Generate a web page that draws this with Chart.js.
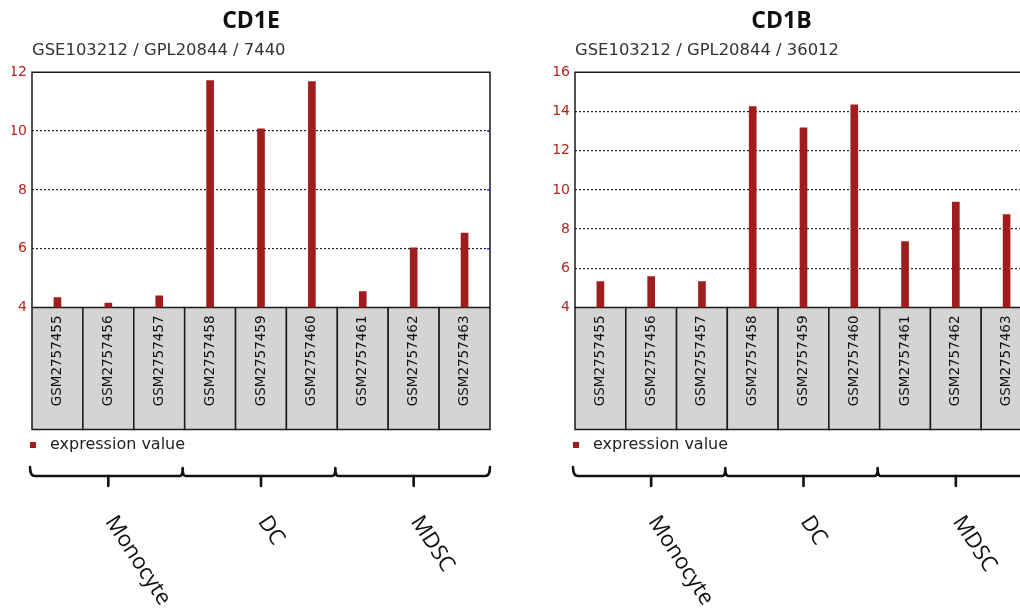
<!DOCTYPE html>
<html>
<head>
<meta charset="utf-8">
<script src="https://cdn.jsdelivr.net/npm/chart.js@4.4.0/dist/chart.umd.min.js"></script>
<style>
  html, body { margin: 0; padding: 0; background: #fff; overflow: hidden; }
  body { width: 1020px; height: 613px; position: relative; }
  .panel { position: absolute; top: 0; height: 613px; }
  #wrap-cd1e { left: 0; width: 510px; }
  #wrap-cd1b { left: 530px; width: 520px; }
</style>
</head>
<body>
<div class="panel" id="wrap-cd1e"><canvas id="chart-cd1e"></canvas></div>
<div class="panel" id="wrap-cd1b"><canvas id="chart-cd1b"></canvas></div>
<script>
// GEO 表达谱柱状图：CD1E / CD1B

const samples = ['GSM2757455', 'GSM2757456', 'GSM2757457', 'GSM2757458', 'GSM2757459',
                 'GSM2757460', 'GSM2757461', 'GSM2757462', 'GSM2757463'];
const groups = ['Monocyte', 'DC', 'MDSC'];
const groupSizes = [3, 3, 3];

const cd1eValues = [4.34, 4.15, 4.40, 11.72, 10.08, 11.68, 4.54, 6.03, 6.53];
const cd1bValues = [5.32, 5.58, 5.32, 14.25, 13.17, 14.34, 7.36, 9.38, 8.74];
const cd1eRange = [4, 12];
const cd1bRange = [4, 16];
const yStep = 2;

const BAR_RED = '#a11d1d';
const TICK_RED = '#b3261e';
const INK = '#111';

// 样本框、外框、图例、分组括号
const geoDecor = {
  id: 'geoDecor',
  beforeDraw(chart) {
    const { ctx, chartArea: a, scales: { x } } = chart;
    const half = (x.getPixelForValue(1) - x.getPixelForValue(0)) / 2;
    ctx.save();
    ctx.fillStyle = '#d4d4d4';
    ctx.strokeStyle = '#1a1a1a';
    ctx.lineWidth = 1.5;
    samples.forEach((_, i) => {
      const c = x.getPixelForValue(i);
      ctx.fillRect(c - half, a.bottom, half * 2, 122);
      ctx.strokeRect(c - half, a.bottom, half * 2, 122);
    });
    ctx.restore();
  },
  afterDraw(chart) {
    const { ctx, chartArea: a, scales: { x, y } } = chart;
    ctx.save();

    // 绘图区边框
    ctx.strokeStyle = '#1a1a1a';
    ctx.lineWidth = 1.5;
    ctx.beginPath();
    ctx.moveTo(a.left, a.bottom);
    ctx.lineTo(a.left, a.top);
    ctx.lineTo(a.right, a.top);
    ctx.lineTo(a.right, a.bottom);
    ctx.stroke();

    // 右侧蓝色小刻度
    ctx.strokeStyle = '#2a2ae0';
    y.ticks.forEach(t => {
      if (t.value === y.min || t.value === y.max) return;
      const py = y.getPixelForValue(t.value);
      ctx.beginPath();
      ctx.moveTo(a.right - 3, py);
      ctx.lineTo(a.right, py);
      ctx.stroke();
    });

    // 图例
    ctx.fillStyle = BAR_RED;
    ctx.fillRect(a.left - 2, 442, 6, 6);
    ctx.fillStyle = '#222';
    ctx.font = '16px "DejaVu Sans"';
    ctx.textBaseline = 'middle';
    ctx.textAlign = 'left';
    ctx.fillText('expression value', a.left + 18, 445);

    // 分组括号
    const y0 = 467, y1 = 476, y2 = 486;
    const x0 = a.left - 2, x1 = a.right;
    const bounds = [];
    let start = 0;
    groupSizes.forEach((n, gi) => {
      if (gi > 0) bounds.push((x.getPixelForValue(start - 1) + x.getPixelForValue(start)) / 2 - 2);
      start += n;
    });
    ctx.strokeStyle = INK;
    ctx.lineWidth = 2.6;
    ctx.lineCap = 'round';
    ctx.lineJoin = 'round';
    ctx.beginPath();
    ctx.moveTo(x0, y0);
    ctx.quadraticCurveTo(x0, y1, x0 + 5, y1);
    bounds.forEach(b => {
      ctx.lineTo(b - 3, y1);
      ctx.quadraticCurveTo(b, y1, b, y0 + 1);
      ctx.quadraticCurveTo(b, y1, b + 3, y1);
    });
    ctx.lineTo(x1 - 5, y1);
    ctx.quadraticCurveTo(x1, y1, x1, y0);
    ctx.stroke();

    start = 0;
    const centers = groupSizes.map(n => {
      const c = x.getPixelForValue(start + (n - 1) / 2);
      start += n;
      return c;
    });
    ctx.beginPath();
    centers.forEach(c => {
      ctx.moveTo(c, y1);
      ctx.lineTo(c, y2);
    });
    ctx.stroke();

    // 分组名称（斜排）
    ctx.fillStyle = INK;
    ctx.font = '22px "Open Sans"';
    ctx.textBaseline = 'top';
    ctx.textAlign = 'left';
    centers.forEach((c, i) => {
      ctx.save();
      ctx.translate(c + 11, 512);
      ctx.rotate(57 * Math.PI / 180);
      ctx.fillText(groups[i], 0, 0);
      ctx.restore();
    });

    ctx.restore();
  },
};

function makeChart(canvasId, title, subtitle, values, range, pad, yWidth) {
  const [yMin, yMax] = range;
  return new Chart(document.getElementById(canvasId), {
    type: 'bar',
    data: {
      labels: samples,
      datasets: [{
        label: 'expression value',
        data: values,
        backgroundColor: BAR_RED,
        borderWidth: 0,
        barThickness: 7,
      }],
    },
    options: {
      responsive: true,
      maintainAspectRatio: false,
      animation: false,
      layout: { padding: { left: pad.left, right: pad.right, top: 0, bottom: 0 } },
      plugins: {
        legend: { display: false },
        tooltip: { enabled: false },
        title: {
          display: true,
          text: title,
          color: INK,
          font: { family: 'Open Sans', size: 23, weight: 'bold' },
          padding: { top: 7.2, bottom: 0 },
        },
        subtitle: {
          display: true,
          text: subtitle,
          align: 'start',
          fullSize: false,
          color: '#333',
          font: { family: 'DejaVu Sans', size: 16.4 },
          padding: { top: 5.8, bottom: 12 },
        },
      },
      scales: {
        x: {
          offset: true,
          grid: { display: false, drawTicks: false },
          border: { display: false },
          ticks: {
            autoSkip: false,
            minRotation: 90,
            maxRotation: 90,
            padding: 8,
            color: INK,
            font: { family: 'DejaVu Sans', size: 13.5 },
          },
          afterFit: s => { s.height = 305.5; },
        },
        y: {
          min: yMin,
          max: yMax,
          ticks: {
            stepSize: yStep,
            padding: 5,
            color: TICK_RED,
            font: { family: 'DejaVu Sans', size: 14 },
          },
          grid: {
            drawTicks: false,
            lineWidth: 1.2,
            color: ctx => (ctx.tick.value === yMin || ctx.tick.value === yMax) ? 'rgba(0,0,0,0)' : '#222',
          },
          border: { display: false, dash: [2, 2] },
          afterFit: s => { s.width = yWidth; },
        },
      },
    },
    plugins: [geoDecor],
  });
}

makeChart('chart-cd1e', 'CD1E', 'GSE103212 / GPL20844 / 7440', cd1eValues, cd1eRange, { left: 12, right: 20 }, 20);
makeChart('chart-cd1b', 'CD1B', 'GSE103212 / GPL20844 / 36012', cd1bValues, cd1bRange, { left: 1, right: 18 }, 44);
</script>
</body>
</html>
